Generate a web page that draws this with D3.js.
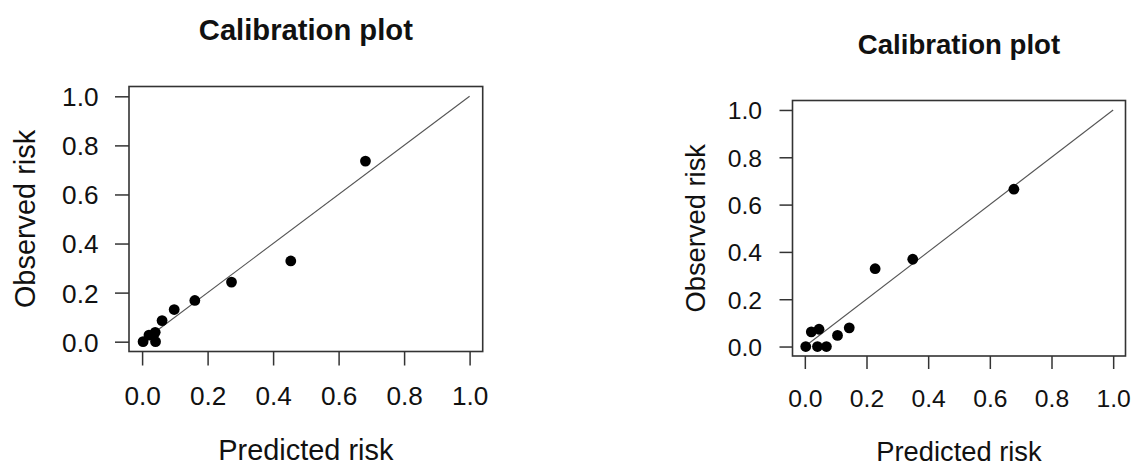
<!DOCTYPE html>
<html>
<head>
<meta charset="utf-8">
<script src="https://cdn.jsdelivr.net/npm/d3@7"></script>
<style>
  html, body { margin: 0; padding: 0; background: #fff; }
  svg { display: block; }
  text { font-family: "Liberation Sans", Arial, Helvetica, sans-serif; fill: #111; }
</style>
</head>
<body>
<svg id="chart" width="1137" height="466"></svg>
<script>
// Calibration data: grouped predicted risk vs observed event rate
const leftPredicted = [0.003, 0.021, 0.040, 0.041, 0.061, 0.098, 0.161, 0.273, 0.454, 0.682];
const leftObserved  = [0.000, 0.027, 0.038, 0.000, 0.086, 0.131, 0.168, 0.243, 0.329, 0.736];

const rightPredicted = [0.003, 0.021, 0.046, 0.041, 0.070, 0.106, 0.144, 0.228, 0.350, 0.678];
const rightObserved  = [0.000, 0.062, 0.073, 0.000, 0.000, 0.047, 0.079, 0.329, 0.369, 0.665];

const tickValues = [0, 0.2, 0.4, 0.6, 0.8, 1.0];
const tickLabels = ["0.0", "0.2", "0.4", "0.6", "0.8", "1.0"];
const titleText = "Calibration plot";
const xLabel = "Predicted risk";
const yLabel = "Observed risk";

const svg = d3.select("#chart");

// Panel geometry (plot box in page pixels) and text sizes
const panels = [
  {
    px: leftPredicted, py: leftObserved,
    box: { x0: 129, x1: 482.7, y0: 86.5, y1: 351.5 },
    tick: 14, tickFont: 26.2, labFont: 28.9, titleFont: 29.2,
    titleY: 40, yTickX: 98.5, xTickY: 405, xLabY: 459.5, yLabX: 35
  },
  {
    px: rightPredicted, py: rightObserved,
    box: { x0: 792.5, x1: 1125.5, y0: 100.5, y1: 356 },
    tick: 13, tickFont: 24.7, labFont: 27.3, titleFont: 27.6,
    titleY: 53.5, yTickX: 762, xTickY: 406.5, xLabY: 460.5, yLabX: 705
  }
];

panels.forEach(p => {
  const b = p.box;
  const x = d3.scaleLinear().domain([-0.04, 1.04]).range([b.x0, b.x1]);
  const y = d3.scaleLinear().domain([-0.04, 1.04]).range([b.y1, b.y0]);
  const g = svg.append("g");

  // ideal calibration line
  g.append("line")
    .attr("x1", x(0)).attr("y1", y(0))
    .attr("x2", x(1)).attr("y2", y(1))
    .attr("stroke", "#555").attr("stroke-width", 1.1);

  // plot frame
  g.append("rect")
    .attr("x", b.x0).attr("y", b.y0)
    .attr("width", b.x1 - b.x0).attr("height", b.y1 - b.y0)
    .attr("fill", "none").attr("stroke", "#333").attr("stroke-width", 1.6);

  // x axis ticks and labels
  const xAxis = d3.axisBottom(x).tickValues(tickValues)
    .tickFormat((d, i) => tickLabels[i]).tickSize(p.tick).tickPadding(0);
  const xg = g.append("g").attr("transform", `translate(0,${b.y1})`).call(xAxis);
  xg.select(".domain").remove();
  xg.selectAll(".tick line").attr("stroke", "#333").attr("stroke-width", 1.5);
  xg.selectAll(".tick text")
    .attr("y", p.xTickY - b.y1).attr("dy", null)
    .style("font-size", p.tickFont + "px").attr("fill", "#111")
    .style("font-family", "'Liberation Sans', Arial, sans-serif");

  // y axis ticks and labels
  const yAxis = d3.axisLeft(y).tickValues(tickValues)
    .tickFormat((d, i) => tickLabels[i]).tickSize(p.tick).tickPadding(0);
  const yg = g.append("g").attr("transform", `translate(${b.x0},0)`).call(yAxis);
  yg.select(".domain").remove();
  yg.selectAll(".tick line").attr("stroke", "#333").attr("stroke-width", 1.5);
  yg.selectAll(".tick text")
    .attr("x", p.yTickX - b.x0).attr("dy", "0.36em")
    .style("font-size", p.tickFont + "px").attr("fill", "#111")
    .style("font-family", "'Liberation Sans', Arial, sans-serif");

  // points
  g.selectAll("circle.pt")
    .data(p.px.map((v, i) => [v, p.py[i]]))
    .join("circle")
    .attr("class", "pt")
    .attr("cx", d => x(d[0])).attr("cy", d => y(d[1]))
    .attr("r", 5.4).attr("fill", "#000");

  // title
  const cx = (b.x0 + b.x1) / 2;
  g.append("text")
    .attr("x", cx).attr("y", p.titleY)
    .attr("text-anchor", "middle")
    .style("font-size", p.titleFont + "px").style("font-weight", "bold")
    .text(titleText);

  // axis titles
  g.append("text")
    .attr("x", cx).attr("y", p.xLabY)
    .attr("text-anchor", "middle")
    .style("font-size", p.labFont + "px")
    .text(xLabel);

  g.append("text")
    .attr("transform", `translate(${p.yLabX},${(b.y0 + b.y1) / 2}) rotate(-90)`)
    .attr("text-anchor", "middle")
    .style("font-size", p.labFont + "px")
    .text(yLabel);
});
</script>
</body>
</html>
